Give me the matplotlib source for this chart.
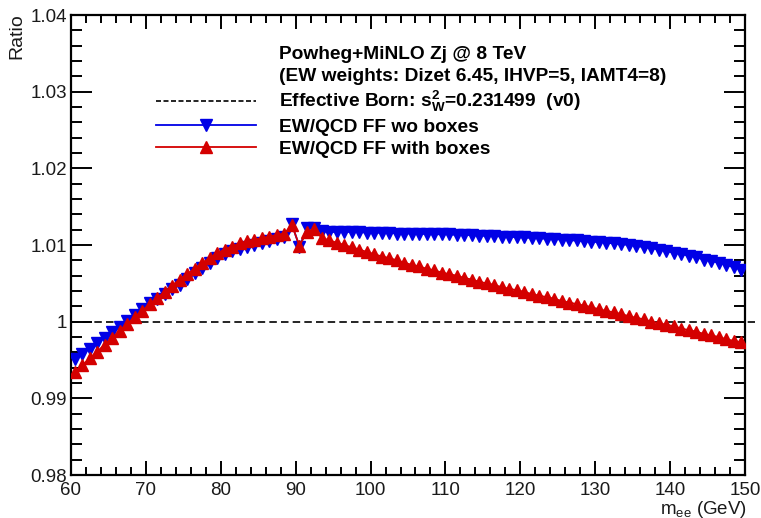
import numpy as np
import matplotlib.pyplot as plt
from matplotlib.lines import Line2D
from matplotlib.ticker import MultipleLocator, FixedLocator, FixedFormatter

plt.rcParams['font.family'] = ['Liberation Sans', 'DejaVu Sans']
plt.rcParams['mathtext.fontset'] = 'custom'
plt.rcParams['mathtext.rm'] = 'Liberation Sans'
plt.rcParams['mathtext.bf'] = 'Liberation Sans:bold'
plt.rcParams['mathtext.it'] = 'Liberation Sans:italic'

# --- bin centres in m_ee (GeV) ---
m_ee = np.arange(60.5, 150.0, 1.0)

# --- EW/QCD form factors without box diagrams ---
ratio_wo_boxes = [
    0.9951, 0.9958, 0.9965, 0.9972, 0.9979, 0.9986, 0.9993, 1.0001, 1.0009, 1.0017,
    1.0024, 1.0030, 1.0036, 1.0042, 1.0048, 1.0056, 1.0063, 1.0070, 1.0077, 1.0083,
    1.0088, 1.0092, 1.0095, 1.0098, 1.0100, 1.0102, 1.0105, 1.0108, 1.0110, 1.0127,
    1.0098, 1.0122, 1.0122, 1.0118, 1.0117, 1.0117, 1.0117, 1.0117, 1.0117, 1.0116,
    1.0116, 1.0116, 1.0116, 1.0115, 1.0115, 1.0115, 1.0115, 1.0114, 1.0114, 1.0114,
    1.0114, 1.0113, 1.0113, 1.0113, 1.0112, 1.0112, 1.0112, 1.0111, 1.0111, 1.0110,
    1.0110, 1.0109, 1.0109, 1.0108, 1.0108, 1.0107, 1.0106, 1.0106, 1.0105, 1.0104,
    1.0104, 1.0103, 1.0102, 1.0101, 1.0100, 1.0099, 1.0097, 1.0096, 1.0094, 1.0092,
    1.0090, 1.0088, 1.0086, 1.0084, 1.0081, 1.0079, 1.0077, 1.0074, 1.0071, 1.0068,
]

# --- EW/QCD form factors including box diagrams ---
ratio_with_boxes = [
    0.9934, 0.9943, 0.9952, 0.9961, 0.9970, 0.9979, 0.9988, 0.9997, 1.0006, 1.0014,
    1.0023, 1.0031, 1.0039, 1.0047, 1.0055, 1.0062, 1.0069, 1.0076, 1.0083, 1.0089,
    1.0094, 1.0098, 1.0102, 1.0105, 1.0107, 1.0109, 1.0111, 1.0113, 1.0115, 1.0126,
    1.0099, 1.0117, 1.0121, 1.0109, 1.0106, 1.0103, 1.0100, 1.0097, 1.0094, 1.0091,
    1.0088, 1.0085, 1.0083, 1.0080, 1.0077, 1.0074, 1.0072, 1.0069, 1.0067, 1.0064,
    1.0062, 1.0060, 1.0057, 1.0055, 1.0052, 1.0050, 1.0048, 1.0045, 1.0043, 1.0041,
    1.0039, 1.0036, 1.0034, 1.0032, 1.0030, 1.0027, 1.0025, 1.0023, 1.0021, 1.0019,
    1.0016, 1.0014, 1.0012, 1.0010, 1.0007, 1.0005, 1.0003, 1.0000, 0.9998, 0.9996,
    0.9994, 0.9991, 0.9989, 0.9987, 0.9984, 0.9982, 0.9980, 0.9977, 0.9975, 0.9973,
]

born_ratio = 1.0

xticks = [60, 70, 80, 90, 100, 110, 120, 130, 140, 150]
yticks = [0.98, 0.99, 1.00, 1.01, 1.02, 1.03, 1.04]
ytick_labels = ['0.98', '0.99', '1', '1.01', '1.02', '1.03', '1.04']

BLUE = '#0000e6'
RED = '#d40000'
INK = '#1a1a1a'

fig = plt.figure(figsize=(7.61, 5.18), dpi=100)
ax = fig.add_axes([71 / 761, 43 / 518, 674 / 761, 460 / 518])

ax.plot(m_ee, ratio_wo_boxes, color=BLUE, lw=1.3, marker='v', ms=8, mec=BLUE, zorder=3)
ax.plot(m_ee, ratio_with_boxes, color=RED, lw=1.3, marker='^', ms=8, mec=RED, zorder=4)
ax.plot([60, 151.3], [born_ratio, born_ratio], color='black', lw=1.2,
        dashes=(4.5, 2.5), clip_on=False, zorder=2)

ax.set_xlim(60, 150)
ax.set_ylim(0.98, 1.04)

ax.xaxis.set_major_locator(FixedLocator(xticks))
ax.xaxis.set_minor_locator(MultipleLocator(2))
ax.yaxis.set_major_locator(FixedLocator(yticks))
ax.yaxis.set_major_formatter(FixedFormatter(ytick_labels))
ax.yaxis.set_minor_locator(MultipleLocator(0.002))

ax.tick_params(axis='both', which='both', direction='in', top=True, right=True,
               colors='black', width=1.4, labelcolor=INK, labelsize=13.5)
ax.tick_params(axis='x', which='major', length=10, pad=5)
ax.tick_params(axis='x', which='minor', length=6)
ax.tick_params(axis='y', which='major', length=15, pad=3)
ax.tick_params(axis='y', which='minor', length=8)
for spine in ax.spines.values():
    spine.set_linewidth(1.6)

fig.text(16.5 / 761, 1 - 13 / 518, 'Ratio', rotation=90, ha='center', va='top',
         fontsize=14, color=INK)
fig.text(747 / 761, 1 - 509 / 518, r'm$_{\mathregular{ee}}$ (GeV)', ha='right',
         va='center', fontsize=13.5, color=INK)

blank = Line2D([], [], linestyle='none')
handles = [
    blank,
    blank,
    Line2D([], [], color='black', lw=1.2, dashes=(3, 1.5)),
    Line2D([], [], color=BLUE, lw=1.3, marker='v', ms=8, mec=BLUE),
    Line2D([], [], color=RED, lw=1.3, marker='^', ms=8, mec=RED),
]
labels = [
    'Powheg+MiNLO Zj @ 8 TeV',
    '(EW weights: Dizet 6.45, IHVP=5, IAMT4=8)',
    r'Effective Born: $\mathbf{s}_{\mathbf{W}}^{\mathbf{2}}$=0.231499  (v0)',
    'EW/QCD FF wo boxes',
    'EW/QCD FF with boxes',
]
fig.legend(handles, labels, loc='upper left', bbox_to_anchor=(156 / 761, 1 - 46 / 518),
           frameon=False, prop={'weight': 'bold', 'size': 13.8},
           handlelength=5.2, handletextpad=1.2, labelspacing=0.22,
           borderpad=0, borderaxespad=0, markerfirst=True, numpoints=1)

fig.savefig('out.png', dpi=100)
